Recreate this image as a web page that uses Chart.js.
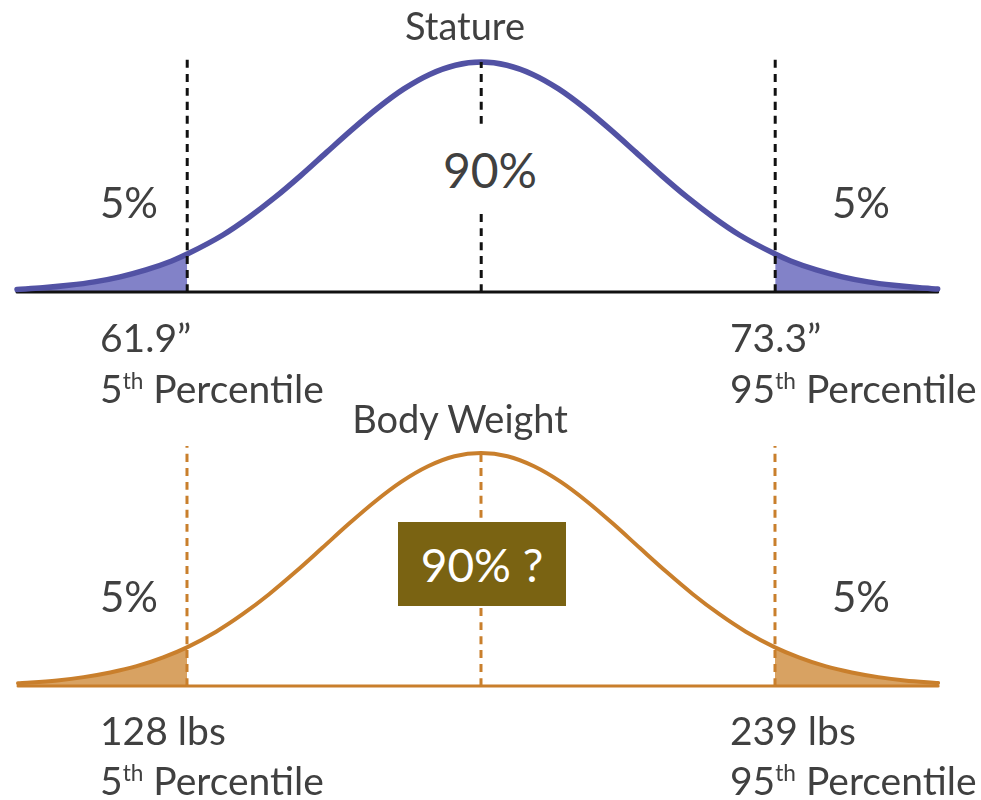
<!DOCTYPE html>
<html>
<head>
<meta charset="utf-8">
<script src="https://cdn.jsdelivr.net/npm/chart.js@4.4.1/dist/chart.umd.min.js"></script>
<style>
body { margin: 0; background: #fff; }
#wrap { position: relative; width: 981px; height: 800px; overflow: hidden; font-family: Lato, sans-serif; color: #404040; }
canvas { position: absolute; left: 0; }
.lbl { position: absolute; white-space: nowrap; line-height: 1; z-index: 3; }
.lbl .th { position: relative; font-size: 0.58em; top: -0.6em; }
.box { position: absolute; z-index: 2; }
</style>
</head>
<body>
<div id="wrap">
  <canvas id="statureChart" width="981" height="400" style="top:0"></canvas>
  <canvas id="weightChart" width="981" height="400" style="top:400px"></canvas>
</div>
<script>
// stature curve (inches), height relative to the peak
var statureX = [58.6, 59.1, 59.6, 60.1, 60.6, 61.1, 61.6, 61.9, 62.6, 63.1, 63.6, 64.1, 64.6, 65.1, 65.6, 66.1, 66.6, 67.1, 67.6,
                68.1, 68.6, 69.1, 69.6, 70.1, 70.6, 71.1, 71.6, 72.1, 72.6, 73.3, 73.6, 74.1, 74.6, 75.1, 75.6, 76.1, 76.45];
var statureY = [0.011, 0.018, 0.029, 0.044, 0.066, 0.096, 0.135, 0.165, 0.249, 0.325, 0.411, 0.506, 0.607, 0.707, 0.801, 0.883, 0.946, 0.986, 1,
                0.986, 0.946, 0.883, 0.801, 0.707, 0.607, 0.506, 0.411, 0.325, 0.249, 0.165, 0.135, 0.096, 0.066, 0.044, 0.029, 0.018, 0.013];
var staturePct = [61.9, 67.6, 73.3];   // 5th, mean, 95th
var statureLabels = ['61.9\u201d', '73.3\u201d'];

// body weight curve (lbs)
var weightX = [96.1, 98.5, 103.5, 108.5, 113.5, 118.5, 123.5, 128, 133.5, 138.5, 143.5, 148.5, 153.5, 158.5, 163.5, 168.5, 173.5, 178.5, 183.5,
               188.5, 193.5, 198.5, 203.5, 208.5, 213.5, 218.5, 223.5, 228.5, 233.5, 239, 243.5, 248.5, 253.5, 258.5, 263.5, 269.8];
var weightY = [0.012, 0.015, 0.024, 0.038, 0.058, 0.085, 0.123, 0.166, 0.233, 0.308, 0.394, 0.490, 0.592, 0.695, 0.792, 0.877, 0.943, 0.986, 1,
               0.986, 0.943, 0.877, 0.792, 0.695, 0.592, 0.490, 0.394, 0.308, 0.233, 0.166, 0.123, 0.085, 0.058, 0.038, 0.024, 0.013];
var weightPct = [128, 183.5, 239];
var weightLabels = ['128 lbs', '239 lbs'];

var tailShares = ['5%', '5%'];
var middleShare = '90%';
var pctLineTop = 1.03;

function pts(xs, ys, keep) {
    var out = [];
    for (var i = 0; i < xs.length; i++) {
        if (!keep || keep(xs[i])) out.push({x: xs[i], y: ys[i]});
    }
    return out;
}

function vline(x, top) {
    return [{x: x, y: 0}, {x: x, y: top}];
}

function constructCurve(elem, xs, ys, pct, st) {
    var lo = pct[0], hi = pct[2];
    var base = {pointRadius: 0, cubicInterpolationMode: 'monotone'};
    var datasets = [
        Object.assign({data: pts(xs, ys, function(x) { return x <= lo; }), borderWidth: 0,
            backgroundColor: st.fill, fill: 'origin', order: 5}, base),
        Object.assign({data: pts(xs, ys, function(x) { return x >= hi; }), borderWidth: 0,
            backgroundColor: st.fill, fill: 'origin', order: 5}, base),
        Object.assign({data: [{x: xs[0], y: 0}, {x: xs[xs.length - 1], y: 0}], borderColor: st.axis,
            borderWidth: 3, borderCapStyle: 'round', fill: false, order: 4}, base),
        Object.assign({data: pts(xs, ys), borderColor: st.line, borderWidth: st.width,
            borderCapStyle: 'round', fill: false, order: 2}, base),
        Object.assign({data: vline(lo, pctLineTop), borderColor: st.dash, borderWidth: 3,
            borderDash: [8, 6], fill: false, order: 1}, base),
        Object.assign({data: vline(pct[1], 1), borderColor: st.dash, borderWidth: 3,
            borderDash: [8, 6], fill: false, order: 1}, base),
        Object.assign({data: vline(hi, pctLineTop), borderColor: st.dash, borderWidth: 3,
            borderDash: [8, 6], fill: false, order: 1}, base)
    ];
    return new Chart(elem, {
        type: 'line',
        data: {datasets: datasets},
        options: {
            responsive: false,
            animation: false,
            layout: {padding: 0},
            plugins: {legend: {display: false}, tooltip: {enabled: false}},
            scales: {
                x: {type: 'linear', display: false, min: st.xMin, max: st.xMax},
                y: {type: 'linear', display: false, min: st.yMin, max: st.yMax}
            }
        }
    });
}

constructCurve(document.getElementById('statureChart'), statureX, statureY, staturePct, {
    xMin: 58.27, xMax: 77.29, yMin: -0.4696, yMax: 1.2696,
    line: '#5252a4', fill: '#8282c8', axis: '#111111', dash: '#111111', width: 5.5
});
constructCurve(document.getElementById('weightChart'), weightX, weightY, weightPct, {
    xMin: 92.70, xMax: 277.89, yMin: -0.4893, yMax: 1.2275,
    line: '#c97f2c', fill: '#d8a262', axis: '#c97f2c', dash: '#c97f2c', width: 4
});

// text
var wrap = document.getElementById('wrap');
var mctx = document.createElement('canvas').getContext('2d');

function place(html, x, baseline, size, align, color) {
    mctx.font = size + 'px Lato';
    var m = mctx.measureText('Hg');
    var asc = m.fontBoundingBoxAscent, desc = m.fontBoundingBoxDescent;
    var d = document.createElement('div');
    d.className = 'lbl';
    d.innerHTML = html;
    d.style.fontSize = size + 'px';
    d.style.top = (baseline - ((size - asc - desc) / 2 + asc)) + 'px';
    d.style.left = x + 'px';
    if (align === 'center') d.style.transform = 'translateX(-50%)';
    if (color) d.style.color = color;
    wrap.appendChild(d);
}

function box(x, y, w, h, color) {
    var b = document.createElement('div');
    b.className = 'box';
    b.style.cssText = 'left:' + x + 'px;top:' + y + 'px;width:' + w + 'px;height:' + h + 'px;background:' + color;
    wrap.appendChild(b);
}

var th = '<span class="th">th</span> Percentile';

place('Stature', 465, 40, 38, 'center');
place(tailShares[0], 100, 218, 42);
place(tailShares[1], 832, 218, 42);
box(440, 127, 100, 85, '#ffffff');
place(middleShare, 490, 188, 48, 'center');
place(statureLabels[0], 100, 352, 39);
place('5' + th, 100, 403, 39);
place(statureLabels[1], 730, 352, 39);
place('95' + th, 730, 403, 39);

place('Body Weight', 460, 433, 38, 'center');
place(tailShares[0], 100, 612, 42);
place(tailShares[1], 832, 612, 42);
box(398, 522, 168, 84, '#7a6312');
place(middleShare + ' ?', 482, 582, 46, 'center', '#ffffff');
place(weightLabels[0], 100, 745, 39);
place('5' + th, 100, 795, 39);
place(weightLabels[1], 730, 745, 39);
place('95' + th, 730, 795, 39);
</script>
</body>
</html>
